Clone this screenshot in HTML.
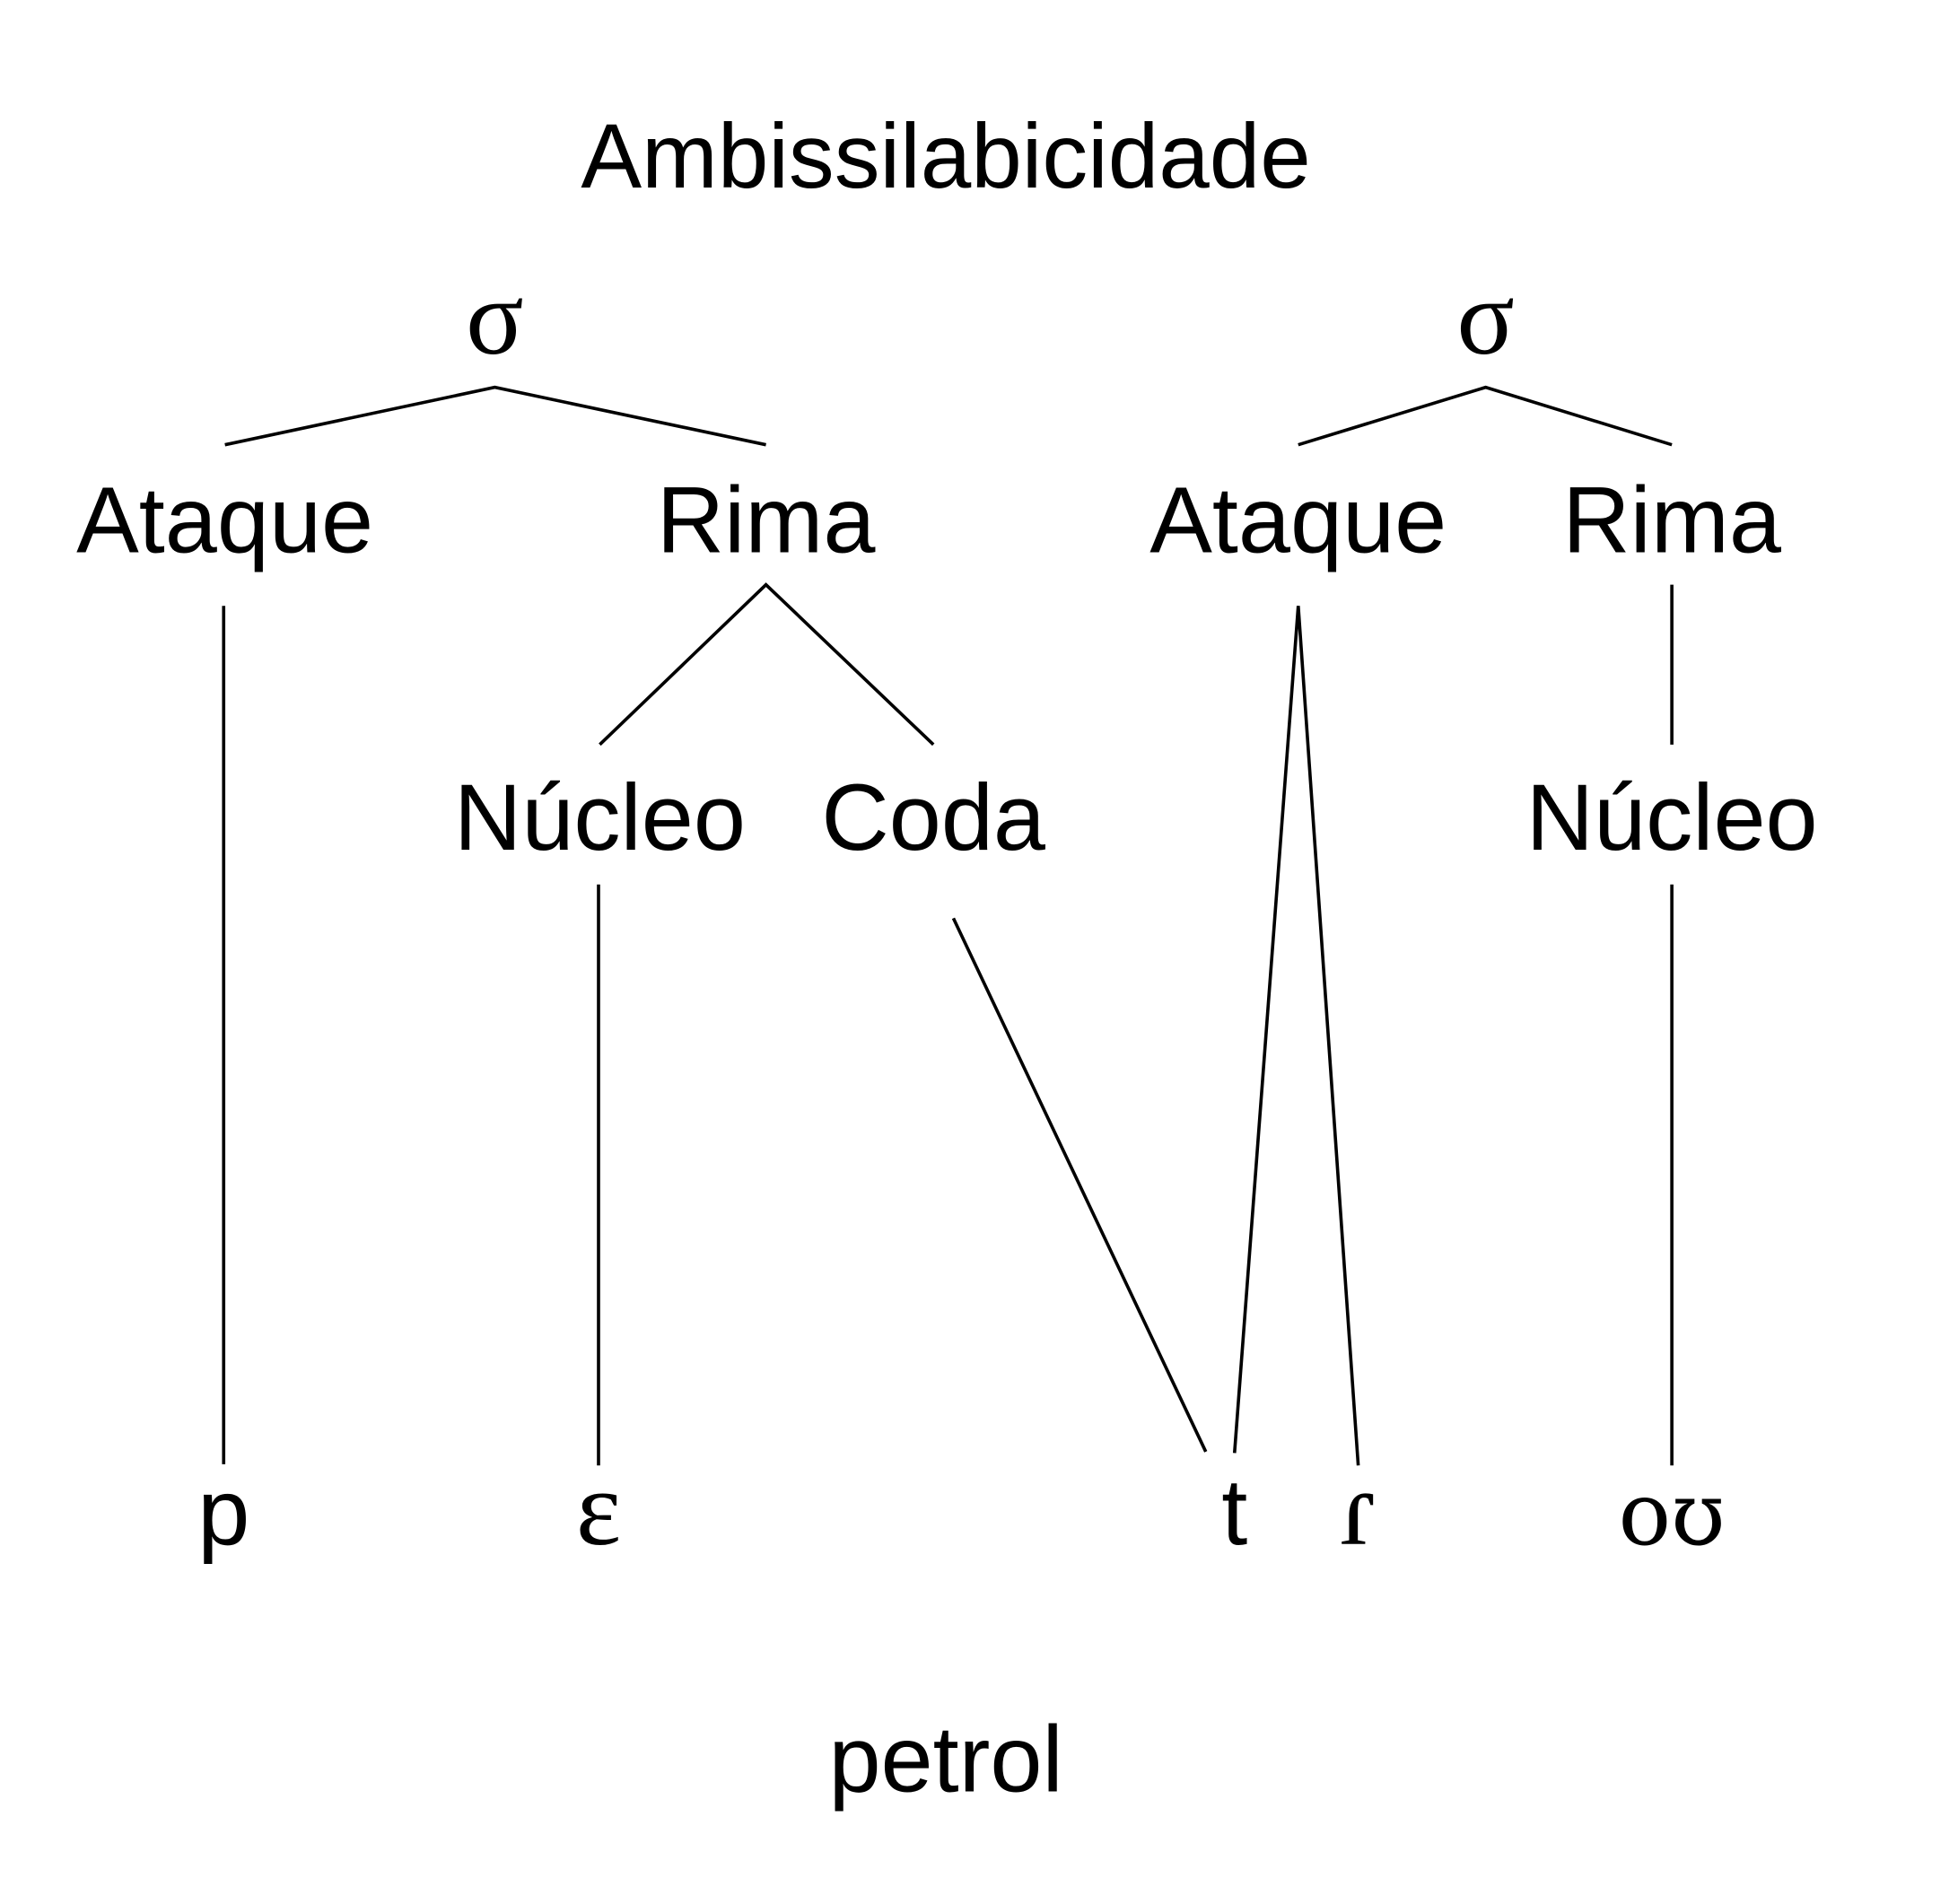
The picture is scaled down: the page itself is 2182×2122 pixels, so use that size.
<!DOCTYPE html>
<html><head><meta charset="utf-8"><style>
html,body{margin:0;padding:0;background:#fff;}
svg{display:block;}
text{font-family:"Liberation Sans","DejaVu Sans",sans-serif;fill:#000;text-anchor:middle;}
.s{font-family:"Liberation Serif","DejaVu Serif",serif;font-size:86px;}
.d{font-family:"DejaVu Serif",serif;font-size:70px;}
</style></head><body>
<svg width="2182" height="2122" viewBox="0 0 1567 1524" preserveAspectRatio="none" xmlns="http://www.w3.org/2000/svg">
<g font-size="75">
<text x="757" y="150" font-size="73">Ambissilabicidade</text>
<text x="396" y="283" class="s">σ</text>
<text x="1189" y="283" class="s">σ</text>
<text x="180" y="442">Ataque</text>
<text x="613" y="442">Rima</text>
<text x="1039" y="442">Ataque</text>
<text x="1338" y="442">Rima</text>
<text x="480" y="680">Núcleo</text>
<text x="747" y="680">Coda</text>
<text x="1338" y="680">Núcleo</text>
<text x="179" y="1236">p</text>
<text x="479" y="1236" class="s">ε</text>
<text x="988" y="1236">t</text>
<text x="1087" y="1236" class="s">ɾ</text>
<text x="1338" y="1236" class="d">oʊ</text>
<text x="757" y="1434">petrol</text>
</g>
<g stroke="#000" stroke-width="2.6" fill="none">
<polyline points="180,356 396,310 613,356"/>
<polyline points="1039,356 1189,310 1338,356"/>
<line x1="179" y1="485" x2="179" y2="1172"/>
<polyline points="480,596 613,468 747,596"/>
<line x1="479" y1="708" x2="479" y2="1173"/>
<line x1="763" y1="735" x2="965" y2="1162"/>
<polyline points="988,1163 1039,485 1087,1173"/>
<line x1="1338" y1="468" x2="1338" y2="596"/>
<line x1="1338" y1="708" x2="1338" y2="1173"/>
</g>
</svg>
</body></html>
